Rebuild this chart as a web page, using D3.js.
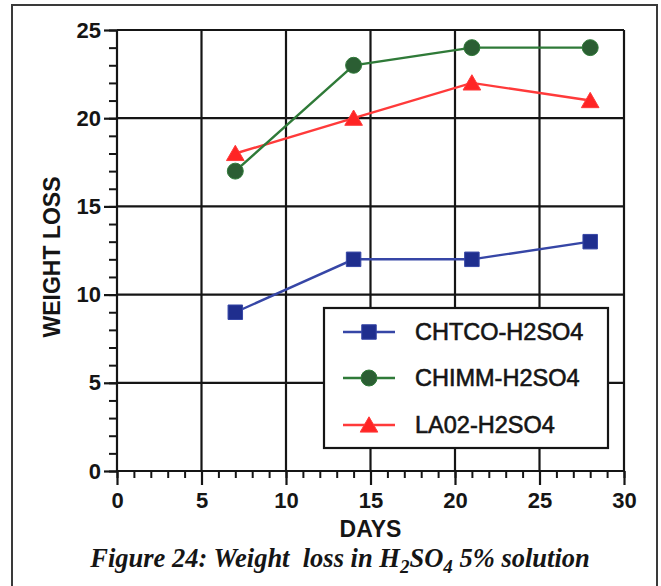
<!DOCTYPE html>
<html>
<head>
<meta charset="utf-8">
<script src="https://cdn.jsdelivr.net/npm/d3@7"></script>
<style>
  html, body { margin: 0; padding: 0; background: #fff; }
  svg { display: block; }
</style>
</head>
<body>
<svg id="chart" width="661" height="586"></svg>
<script>
// ---- data ----
const days = [7, 14, 21, 28];
const chtco = [9, 12, 12, 13];
const chimm = [17, 23, 24, 24];
const la02 = [18, 20, 22, 21];
const seriesNames = ["CHTCO-H2SO4", "CHIMM-H2SO4", "LA02-H2SO4"];
const xTicks = [0, 5, 10, 15, 20, 25, 30];
const yTicks = [0, 5, 10, 15, 20, 25];
const xTitle = "DAYS";
const yTitle = "WEIGHT LOSS";

const series = [
  { name: seriesNames[0], values: chtco, line: "#3646a6", fill: "#1f2e8e", shape: "square" },
  { name: seriesNames[1], values: chimm, line: "#2f7a38", fill: "#2b5e33", shape: "circle" },
  { name: seriesNames[2], values: la02, line: "#ff3a3a", fill: "#ff2424", shape: "triangle" }
];

const svg = d3.select("#chart");
const L = 117, R = 624, T = 30, B = 471;
const x = d3.scaleLinear().domain([0, 30]).range([L, R]);
const y = d3.scaleLinear().domain([0, 25]).range([B, T]);
const sans = "'Liberation Sans', Arial, Helvetica, sans-serif";
const ink = "#151515";

// outer frame
svg.append("rect").attr("x", 12).attr("y", 5).attr("width", 645).attr("height", 600)
  .attr("fill", "none").attr("stroke", "#3a3a3a").attr("stroke-width", 2);

// grid
const grid = svg.append("g").attr("stroke", ink).attr("stroke-width", 2.2);
xTicks.forEach(t => {
  grid.append("line").attr("x1", x(t)).attr("x2", x(t)).attr("y1", y(0)).attr("y2", y(25));
});
yTicks.forEach(t => {
  grid.append("line").attr("x1", x(0)).attr("x2", x(30)).attr("y1", y(t)).attr("y2", y(t));
});

// axes with major and minor ticks
const xMinor = d3.range(0, 31, 1);
const yMinor = d3.range(0, 26, 1);
svg.append("g").attr("transform", `translate(0,${B})`)
  .call(d3.axisBottom(x).tickValues(xMinor).tickSize(7).tickFormat(""))
  .call(g => g.select(".domain").remove())
  .call(g => g.selectAll("line").attr("stroke", ink).attr("stroke-width", 2));
svg.append("g").attr("transform", `translate(0,${B})`)
  .call(d3.axisBottom(x).tickValues(xTicks).tickSize(14).tickPadding(7).tickFormat(d3.format("d")))
  .call(g => g.select(".domain").remove())
  .call(g => g.selectAll("line").attr("stroke", ink).attr("stroke-width", 2.2))
  .call(g => g.selectAll("text").attr("fill", ink).style("font-family", sans)
    .style("font-size", "22px").style("font-weight", "bold"));
svg.append("g").attr("transform", `translate(${L},0)`)
  .call(d3.axisLeft(y).tickValues(yMinor).tickSize(8).tickFormat(""))
  .call(g => g.select(".domain").remove())
  .call(g => g.selectAll("line").attr("stroke", ink).attr("stroke-width", 2));
svg.append("g").attr("transform", `translate(${L},0)`)
  .call(d3.axisLeft(y).tickValues(yTicks).tickSize(13).tickPadding(3).tickFormat(d3.format("d")))
  .call(g => g.select(".domain").remove())
  .call(g => g.selectAll("line").attr("stroke", ink).attr("stroke-width", 2.2))
  .call(g => g.selectAll("text").attr("fill", ink).style("font-family", sans)
    .style("font-size", "22px").style("font-weight", "bold"));

// axis titles
svg.append("text").attr("x", (L + R) / 2).attr("y", 537).attr("text-anchor", "middle")
  .attr("fill", ink).style("font-family", sans).style("font-size", "23px").style("font-weight", "bold")
  .text(xTitle);
svg.append("text").attr("transform", `translate(60,${257}) rotate(-90)`).attr("text-anchor", "middle")
  .attr("fill", ink).style("font-family", sans).style("font-size", "23px").style("font-weight", "bold")
  .text(yTitle);

// markers
const symbolFor = {
  square: d3.symbol().type(d3.symbolSquare).size(210),
  circle: d3.symbol().type(d3.symbolCircle).size(200),
  triangle: d3.symbol().type(d3.symbolTriangle).size(135)
};

const line = d3.line().x(d => x(d[0])).y(d => y(d[1]));
[series[2], series[1], series[0]].forEach(s => {
  const pts = days.map((d, i) => [d, s.values[i]]);
  svg.append("path").datum(pts).attr("d", line).attr("fill", "none")
    .attr("stroke", s.line).attr("stroke-width", 2.4);
});
series.forEach(s => {
  const pts = days.map((d, i) => [d, s.values[i]]);
  svg.append("g").selectAll("path").data(pts).join("path")
    .attr("transform", d => `translate(${x(d[0])},${y(d[1]) + (s.shape === "triangle" ? 2 : 0)})`)
    .attr("d", symbolFor[s.shape]).attr("fill", s.fill).attr("stroke", s.line).attr("stroke-width", 1);
});

// legend
const lg = svg.append("g");
lg.append("rect").attr("x", 324).attr("y", 308).attr("width", 284).attr("height", 140)
  .attr("fill", "#fff").attr("stroke", ink).attr("stroke-width", 2.2);
const legY = [332, 378, 425];
series.forEach((s, i) => {
  const gy = legY[i];
  lg.append("line").attr("x1", 343).attr("x2", 395).attr("y1", gy).attr("y2", gy)
    .attr("stroke", s.line).attr("stroke-width", 2.4);
  lg.append("path").attr("transform", `translate(369,${gy + (s.shape === "triangle" ? 2 : 0)})`)
    .attr("d", symbolFor[s.shape]).attr("fill", s.fill).attr("stroke", s.line).attr("stroke-width", 1);
  lg.append("text").attr("x", 415).attr("y", gy + 8).attr("fill", ink)
    .attr("stroke", ink).attr("stroke-width", 0.6)
    .style("font-family", sans).style("font-size", "23.5px")
    .text(s.name);
});

// caption
const cap = svg.append("text").attr("x", 340).attr("y", 567).attr("text-anchor", "middle")
  .attr("fill", ink).style("font-family", "'Liberation Serif', 'Times New Roman', serif")
  .style("font-size", "26.5px").style("font-weight", "bold").style("font-style", "italic");
cap.append("tspan").text("Figure 24: Weight\u00a0 loss in H");
cap.append("tspan").attr("dy", 6).style("font-size", "19px").text("2");
cap.append("tspan").attr("dy", -6).text("SO");
cap.append("tspan").attr("dy", 6).style("font-size", "19px").text("4");
cap.append("tspan").attr("dy", -6).text(" 5% solution");
</script>
</body>
</html>
